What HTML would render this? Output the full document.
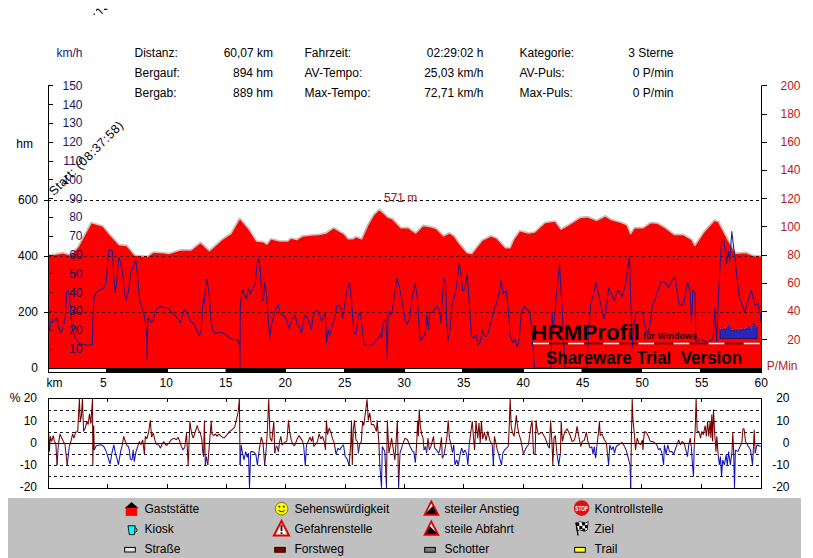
<!DOCTYPE html><html><head><meta charset="utf-8"><style>html,body{margin:0;padding:0;background:#fff;width:813px;height:558px;overflow:hidden}svg{display:block;font-family:"Liberation Sans",sans-serif}</style></head><body>
<svg width="813" height="558" viewBox="0 0 813 558">
<rect width="813" height="558" fill="#fff"/>
<rect x="93.7" y="13.6" width="1.3" height="1.3" fill="#111"/><path d="M96.6,11.2 L96.9,9.4 L98.6,9.4 L102.6,13.6 M104,9.4 L107.4,9.4" stroke="#111" stroke-width="1.1" fill="none"/>
<text x="56.5" y="57" font-size="12" fill="#1a1a6a" text-anchor="start" >km/h</text>
<text x="134.5" y="57" font-size="12" fill="#000" text-anchor="start" >Distanz:</text>
<text x="273" y="57" font-size="12" fill="#000" text-anchor="end" >60,07 km</text>
<text x="134.5" y="77" font-size="12" fill="#000" text-anchor="start" >Bergauf:</text>
<text x="273" y="77" font-size="12" fill="#000" text-anchor="end" >894 hm</text>
<text x="134.5" y="97" font-size="12" fill="#000" text-anchor="start" >Bergab:</text>
<text x="273" y="97" font-size="12" fill="#000" text-anchor="end" >889 hm</text>
<text x="304.5" y="57" font-size="12" fill="#000" text-anchor="start" >Fahrzeit:</text>
<text x="483.5" y="57" font-size="12" fill="#000" text-anchor="end" >02:29:02 h</text>
<text x="304.5" y="77" font-size="12" fill="#000" text-anchor="start" >AV-Tempo:</text>
<text x="483.5" y="77" font-size="12" fill="#000" text-anchor="end" >25,03 km/h</text>
<text x="304.5" y="97" font-size="12" fill="#000" text-anchor="start" >Max-Tempo:</text>
<text x="483.5" y="97" font-size="12" fill="#000" text-anchor="end" >72,71 km/h</text>
<text x="519.5" y="57" font-size="12" fill="#000" text-anchor="start" >Kategorie:</text>
<text x="673.5" y="57" font-size="12" fill="#000" text-anchor="end" >3 Sterne</text>
<text x="519.5" y="77" font-size="12" fill="#000" text-anchor="start" >AV-Puls:</text>
<text x="673.5" y="77" font-size="12" fill="#000" text-anchor="end" >0 P/min</text>
<text x="519.5" y="97" font-size="12" fill="#000" text-anchor="start" >Max-Puls:</text>
<text x="673.5" y="97" font-size="12" fill="#000" text-anchor="end" >0 P/min</text>
<polygon points="48.0,368.0 48.0,255.0 56.0,254.0 63.0,252.7 70.6,255.0 78.0,246.8 82.4,238.7 91.2,222.5 103.0,226.0 110.4,235.0 119.3,244.6 126.7,245.3 134.8,255.0 147.3,256.4 153.2,252.0 164.0,252.7 168.9,253.5 180.7,249.8 191.0,249.8 200.6,242.4 209.4,250.5 222.0,239.4 230.8,233.5 239.7,218.0 248.6,228.4 256.7,241.0 263.3,241.7 267.0,243.9 270.7,238.7 280.0,241.0 287.8,240.9 290.8,238.0 296.7,239.4 302.6,235.8 311.4,235.0 318.8,234.3 326.2,232.8 333.6,227.6 341.0,232.0 343.9,233.5 348.3,238.7 352.8,238.7 355.7,236.5 361.6,238.7 367.5,225.4 373.4,215.0 379.3,209.2 385.2,214.4 388.2,217.3 392.6,218.8 400.9,227.6 408.2,227.6 415.6,232.8 423.0,225.4 431.9,226.9 436.3,228.4 443.7,235.8 449.6,232.8 454.0,235.8 459.9,243.9 467.3,252.7 471.7,253.5 482.0,240.2 490.9,235.8 496.8,238.0 505.7,247.6 510.0,247.6 513.9,238.7 519.8,230.6 528.7,232.8 534.6,232.0 544.9,222.5 555.2,221.0 561.1,229.1 568.5,224.7 580.3,217.3 587.7,216.6 596.6,220.3 605.4,215.8 611.3,219.5 621.7,222.5 627.0,224.7 630.6,233.5 634.3,227.6 643.2,227.6 650.6,222.5 658.0,223.2 665.3,227.6 674.2,234.3 683.0,234.3 691.9,239.4 694.8,245.3 703.7,232.0 714.3,220.1 718.6,221.5 728.7,240.9 735.9,253.1 745.9,252.4 753.1,255.3 761.0,256.0 761.5,256.0 762.0,368.0" fill="#ff0000"/>
<polyline points="48.0,255.0 56.0,254.0 63.0,252.7 70.6,255.0 78.0,246.8 82.4,238.7 91.2,222.5 103.0,226.0 110.4,235.0 119.3,244.6 126.7,245.3 134.8,255.0 147.3,256.4 153.2,252.0 164.0,252.7 168.9,253.5 180.7,249.8 191.0,249.8 200.6,242.4 209.4,250.5 222.0,239.4 230.8,233.5 239.7,218.0 248.6,228.4 256.7,241.0 263.3,241.7 267.0,243.9 270.7,238.7 280.0,241.0 287.8,240.9 290.8,238.0 296.7,239.4 302.6,235.8 311.4,235.0 318.8,234.3 326.2,232.8 333.6,227.6 341.0,232.0 343.9,233.5 348.3,238.7 352.8,238.7 355.7,236.5 361.6,238.7 367.5,225.4 373.4,215.0 379.3,209.2 385.2,214.4 388.2,217.3 392.6,218.8 400.9,227.6 408.2,227.6 415.6,232.8 423.0,225.4 431.9,226.9 436.3,228.4 443.7,235.8 449.6,232.8 454.0,235.8 459.9,243.9 467.3,252.7 471.7,253.5 482.0,240.2 490.9,235.8 496.8,238.0 505.7,247.6 510.0,247.6 513.9,238.7 519.8,230.6 528.7,232.8 534.6,232.0 544.9,222.5 555.2,221.0 561.1,229.1 568.5,224.7 580.3,217.3 587.7,216.6 596.6,220.3 605.4,215.8 611.3,219.5 621.7,222.5 627.0,224.7 630.6,233.5 634.3,227.6 643.2,227.6 650.6,222.5 658.0,223.2 665.3,227.6 674.2,234.3 683.0,234.3 691.9,239.4 694.8,245.3 703.7,232.0 714.3,220.1 718.6,221.5 728.7,240.9 735.9,253.1 745.9,252.4 753.1,255.3 761.0,256.0" fill="none" stroke="#cdbfb8" stroke-width="1.7" stroke-linejoin="round"/>
<clipPath id="redclip"><polygon points="48.0,368.0 48.0,255.0 56.0,254.0 63.0,252.7 70.6,255.0 78.0,246.8 82.4,238.7 91.2,222.5 103.0,226.0 110.4,235.0 119.3,244.6 126.7,245.3 134.8,255.0 147.3,256.4 153.2,252.0 164.0,252.7 168.9,253.5 180.7,249.8 191.0,249.8 200.6,242.4 209.4,250.5 222.0,239.4 230.8,233.5 239.7,218.0 248.6,228.4 256.7,241.0 263.3,241.7 267.0,243.9 270.7,238.7 280.0,241.0 287.8,240.9 290.8,238.0 296.7,239.4 302.6,235.8 311.4,235.0 318.8,234.3 326.2,232.8 333.6,227.6 341.0,232.0 343.9,233.5 348.3,238.7 352.8,238.7 355.7,236.5 361.6,238.7 367.5,225.4 373.4,215.0 379.3,209.2 385.2,214.4 388.2,217.3 392.6,218.8 400.9,227.6 408.2,227.6 415.6,232.8 423.0,225.4 431.9,226.9 436.3,228.4 443.7,235.8 449.6,232.8 454.0,235.8 459.9,243.9 467.3,252.7 471.7,253.5 482.0,240.2 490.9,235.8 496.8,238.0 505.7,247.6 510.0,247.6 513.9,238.7 519.8,230.6 528.7,232.8 534.6,232.0 544.9,222.5 555.2,221.0 561.1,229.1 568.5,224.7 580.3,217.3 587.7,216.6 596.6,220.3 605.4,215.8 611.3,219.5 621.7,222.5 627.0,224.7 630.6,233.5 634.3,227.6 643.2,227.6 650.6,222.5 658.0,223.2 665.3,227.6 674.2,234.3 683.0,234.3 691.9,239.4 694.8,245.3 703.7,232.0 714.3,220.1 718.6,221.5 728.7,240.9 735.9,253.1 745.9,252.4 753.1,255.3 761.0,256.0 761.5,256.0 762.0,368.0"/></clipPath>
<line x1="48" y1="200.5" x2="762" y2="200.5" stroke="#111" stroke-width="1" stroke-dasharray="3,3"/>
<line x1="48" y1="200.5" x2="762" y2="200.5" stroke="#600000" stroke-width="1" stroke-dasharray="3,3" clip-path="url(#redclip)"/>
<line x1="48" y1="256.5" x2="762" y2="256.5" stroke="#111" stroke-width="1" stroke-dasharray="3,3"/>
<line x1="48" y1="256.5" x2="762" y2="256.5" stroke="#600000" stroke-width="1" stroke-dasharray="3,3" clip-path="url(#redclip)"/>
<line x1="48" y1="312.5" x2="762" y2="312.5" stroke="#111" stroke-width="1" stroke-dasharray="3,3"/>
<line x1="48" y1="312.5" x2="762" y2="312.5" stroke="#600000" stroke-width="1" stroke-dasharray="3,3" clip-path="url(#redclip)"/>
<g>
<text x="82.5" y="89.7" font-size="12" fill="#1a1a6a" text-anchor="end" >150</text>
<text x="82.5" y="108.5" font-size="12" fill="#1a1a6a" text-anchor="end" >140</text>
<text x="82.5" y="127.3" font-size="12" fill="#1a1a6a" text-anchor="end" >130</text>
<text x="82.5" y="146.10000000000002" font-size="12" fill="#1a1a6a" text-anchor="end" >120</text>
<text x="82.5" y="164.90000000000003" font-size="12" fill="#1a1a6a" text-anchor="end" >110</text>
<text x="82.5" y="183.70000000000002" font-size="12" fill="#1a1a6a" text-anchor="end" >100</text>
<text x="82.5" y="202.50000000000003" font-size="12" fill="#1a1a6a" text-anchor="end" >90</text>
<text x="82.5" y="221.3" font-size="12" fill="#1a1a6a" text-anchor="end" >80</text>
<text x="82.5" y="240.10000000000002" font-size="12" fill="#1a1a6a" text-anchor="end" >70</text>
<text x="82.5" y="258.90000000000003" font-size="12" fill="#1a1a6a" text-anchor="end" >60</text>
<text x="82.5" y="277.7" font-size="12" fill="#1a1a6a" text-anchor="end" >50</text>
<text x="82.5" y="296.50000000000006" font-size="12" fill="#1a1a6a" text-anchor="end" >40</text>
<text x="82.5" y="315.3" font-size="12" fill="#1a1a6a" text-anchor="end" >30</text>
<text x="82.5" y="334.1" font-size="12" fill="#1a1a6a" text-anchor="end" >20</text>
<text x="82.5" y="352.90000000000003" font-size="12" fill="#1a1a6a" text-anchor="end" >10</text>
</g><g clip-path="url(#redclip)">
<text x="82.5" y="89.7" font-size="12" fill="#48104a" text-anchor="end" >150</text>
<text x="82.5" y="108.5" font-size="12" fill="#48104a" text-anchor="end" >140</text>
<text x="82.5" y="127.3" font-size="12" fill="#48104a" text-anchor="end" >130</text>
<text x="82.5" y="146.10000000000002" font-size="12" fill="#48104a" text-anchor="end" >120</text>
<text x="82.5" y="164.90000000000003" font-size="12" fill="#48104a" text-anchor="end" >110</text>
<text x="82.5" y="183.70000000000002" font-size="12" fill="#48104a" text-anchor="end" >100</text>
<text x="82.5" y="202.50000000000003" font-size="12" fill="#48104a" text-anchor="end" >90</text>
<text x="82.5" y="221.3" font-size="12" fill="#48104a" text-anchor="end" >80</text>
<text x="82.5" y="240.10000000000002" font-size="12" fill="#48104a" text-anchor="end" >70</text>
<text x="82.5" y="258.90000000000003" font-size="12" fill="#48104a" text-anchor="end" >60</text>
<text x="82.5" y="277.7" font-size="12" fill="#48104a" text-anchor="end" >50</text>
<text x="82.5" y="296.50000000000006" font-size="12" fill="#48104a" text-anchor="end" >40</text>
<text x="82.5" y="315.3" font-size="12" fill="#48104a" text-anchor="end" >30</text>
<text x="82.5" y="334.1" font-size="12" fill="#48104a" text-anchor="end" >20</text>
<text x="82.5" y="352.90000000000003" font-size="12" fill="#48104a" text-anchor="end" >10</text>
</g>
<polyline points="49.1,330.2 50.4,325.2 51.6,318.9 52.9,322.7 54.8,320.2 56.7,317.6 57.9,323.9 59.2,328.9 61.1,332.7 62.9,327.7 64.8,320.2 65.8,310.1 66.7,292.5 68.0,289.4 69.2,293.8 70.1,302.6 71.1,317.6 72.3,327.7 74.2,335.2 76.1,339.0 78.6,342.7 81.8,344.0 87.4,345.2 92.4,344.6 93.0,315.1 94.3,296.3 96.2,292.5 100.0,290.0 102.5,288.8 103.8,288.3 106.3,281.4 107.5,263.8 108.8,250.0 110.7,250.6 112.5,251.3 113.8,276.4 115.1,292.7 116.9,280.1 118.8,257.5 120.7,262.6 122.6,272.6 124.5,292.7 126.1,300.2 128.2,292.7 130.7,273.9 133.2,266.3 135.8,260.1 137.6,276.4 139.5,299.0 142.3,308.8 144.2,315.1 145.4,322.6 146.7,335.2 147.0,359.0 147.9,317.6 149.8,320.1 151.7,322.6 153.6,318.9 154.8,312.6 157.3,308.2 160.5,306.3 163.0,307.6 166.1,307.6 168.6,308.8 171.8,312.6 174.9,315.1 178.0,318.9 180.5,323.2 182.4,315.1 184.3,310.1 186.2,311.3 188.1,315.1 190.6,321.4 193.7,323.9 196.9,330.2 199.4,335.9 201.3,330.2 202.5,307.6 203.6,298.9 204.4,302.6 205.7,285.1 206.9,279.4 208.2,287.6 209.4,295.1 210.7,317.7 212.6,330.2 215.1,333.4 218.9,332.7 222.6,332.7 226.4,334.6 228.9,337.8 232.7,339.6 237.7,339.6 239.6,345.0 240.0,367.0 240.3,307.6 241.4,295.1 242.7,290.1 244.6,295.1 246.5,298.9 248.3,288.8 250.0,291.3 250.1,294.3 252.7,289.2 255.2,284.1 256.9,265.3 258.6,258.5 260.3,268.7 262.0,301.1 263.4,299.4 264.6,282.4 265.8,289.2 267.1,301.1 268.5,321.6 269.7,338.6 271.4,325.0 274.0,314.7 275.7,309.6 278.2,304.5 279.9,313.0 282.5,314.7 285.9,318.1 289.3,328.4 291.8,319.8 295.0,314.7 297.3,324.3 299.5,327.6 301.6,333.0 303.8,319.0 305.5,314.7 307.7,319.0 309.8,323.3 311.5,329.7 313.0,316.8 314.8,311.4 317.3,310.4 319.5,314.7 321.6,321.1 323.8,316.8 325.3,312.5 326.6,342.6 328.1,329.7 329.6,336.2 332.4,325.4 335.2,316.8 336.7,306.1 338.8,305.0 341.0,308.2 342.5,317.9 344.2,308.2 346.8,291.0 349.6,282.4 351.7,301.8 353.9,334.0 356.0,334.0 358.2,316.8 360.3,311.4 362.5,329.7 364.0,344.8 368.3,345.8 372.6,344.8 375.8,340.5 378.0,338.3 380.1,334.0 381.6,338.3 383.4,321.1 385.5,319.0 386.6,334.0 387.2,359.8 388.1,316.8 389.8,311.4 391.5,314.7 393.0,306.1 395.2,291.0 396.9,278.1 399.5,287.8 402.3,301.8 404.9,319.0 407.0,324.3 409.6,319.0 412.4,295.3 415.2,283.5 417.3,297.5 418.8,321.1 420.3,340.5 423.1,337.2 425.3,334.0 426.8,314.7 428.5,329.7 429.6,312.5 432.4,312.5 434.5,309.3 437.1,306.1 439.3,310.4 441.0,323.3 441.8,306.1 444.0,278.1 445.7,284.6 446.6,319.0 447.9,340.5 450.0,329.7 452.2,303.9 454.3,297.5 456.5,286.7 459.1,263.1 461.2,276.0 462.9,291.0 465.1,287.8 467.2,273.8 469.4,303.9 471.5,336.2 473.7,338.3 475.8,334.0 478.0,344.8 480.1,342.6 482.3,329.7 484.4,336.2 487.0,336.2 489.6,327.6 492.4,316.8 494.5,308.2 496.7,302.8 498.8,294.2 501.0,280.3 503.1,293.2 506.4,291.0 508.5,312.5 510.2,336.2 512.8,342.6 515.0,339.4 517.1,346.9 519.3,338.3 521.4,312.5 524.0,306.1 527.2,309.3 530.0,312.5 532.2,334.0 534.5,368.0 540.0,368.0 548.0,368.0 551.0,368.0 552.0,312.5 553.5,330.0 556.0,300.0 559.5,264.0 562.7,319.0 565.0,368.0 568.0,368.0 580.0,368.0 587.0,368.0 588.5,330.0 590.7,304.0 593.5,295.0 596.0,282.4 599.3,297.5 604.0,319.0 606.0,310.0 608.7,287.8 614.3,300.7 618.0,290.0 622.3,296.4 625.5,284.6 629.4,256.6 630.9,303.9 632.4,346.9 634.1,323.3 636.3,311.4 639.5,311.4 642.7,312.5 645.9,329.7 648.1,333.0 650.2,323.3 652.4,306.1 655.6,297.5 661.0,281.3 665.3,282.4 668.5,287.8 672.8,279.2 675.0,277.0 677.1,291.0 679.3,305.0 682.5,305.0 684.0,301.8 687.6,282.0 690.2,292.5 691.5,323.7 692.8,290.0 694.9,292.5 695.9,341.9 699.3,339.3 703.2,340.6 708.4,341.9 713.0,339.3 714.9,308.1 716.7,341.9 718.8,290.0 721.4,242.0 724.0,240.6 726.6,264.0 728.4,251.0 729.7,261.4 731.8,231.5 734.4,253.6 737.0,277.0 739.5,297.7 744.7,312.0 751.2,290.0 755.1,305.5 757.7,303.0 760.3,313.3 761.0,322.0" fill="none" stroke="#241a8a" stroke-width="1.05" stroke-linejoin="round"/>
<text x="531" y="339.5" font-size="22.5" font-weight="bold" fill="#080000">HRMProfil</text>
<text x="643" y="339" font-size="9" font-weight="bold" fill="#1a0000">für Windows</text>
<line x1="531" y1="343.5" x2="759" y2="343.5" stroke="#100000" stroke-width="1.6"/>
<line x1="533.0" y1="343.5" x2="549.0" y2="343.5" stroke="#fff" stroke-width="1.6"/>
<line x1="568.1" y1="343.5" x2="584.1" y2="343.5" stroke="#fff" stroke-width="1.6"/>
<line x1="603.2" y1="343.5" x2="619.2" y2="343.5" stroke="#fff" stroke-width="1.6"/>
<line x1="638.3" y1="343.5" x2="654.3" y2="343.5" stroke="#fff" stroke-width="1.6"/>
<line x1="673.4" y1="343.5" x2="689.4" y2="343.5" stroke="#fff" stroke-width="1.6"/>
<line x1="708.5" y1="343.5" x2="724.5" y2="343.5" stroke="#fff" stroke-width="1.6"/>
<line x1="743.6" y1="343.5" x2="759.6" y2="343.5" stroke="#fff" stroke-width="1.6"/>
<text x="546" y="363.6" font-size="19" font-weight="bold" fill="#080000" xml:space="preserve" textLength="196" lengthAdjust="spacingAndGlyphs">Shareware Trial  Version</text>
<polygon points="720,338.5 720,329 722,329.5 724,328.5 726,330 727.5,326.5 728.5,324.5 730,327 731.5,330 733,331 735,329 737,330.5 739,329.5 741,330 743,328.5 745,330 747,328 748.5,325 750,328.5 751.5,329.5 753,325 754,322.5 755.5,325.5 757,327.5 757,338.5" fill="#2828b8" stroke="#000060" stroke-width="0.6"/><polyline points="720,329 724,328.5 727.5,326.5 728.5,324.5 731.5,330 735,329 739,329.5 743,328.5 747,328 748.5,325 751.5,329.5 754,322.5 757,327.5" fill="none" stroke="#b0b0ff" stroke-width="0.6" stroke-dasharray="1,1.5"/>
<line x1="48.5" y1="85.4" x2="48.5" y2="368" stroke="#000" stroke-width="1"/>
<line x1="761.5" y1="85.4" x2="761.5" y2="368" stroke="#000" stroke-width="1"/>
<line x1="48" y1="85.5" x2="53" y2="85.5" stroke="#000"/>
<line x1="48" y1="85.5" x2="53" y2="85.5" stroke="#700000" clip-path="url(#redclip)"/>
<line x1="48" y1="104.5" x2="53" y2="104.5" stroke="#000"/>
<line x1="48" y1="104.5" x2="53" y2="104.5" stroke="#700000" clip-path="url(#redclip)"/>
<line x1="48" y1="123.5" x2="53" y2="123.5" stroke="#000"/>
<line x1="48" y1="123.5" x2="53" y2="123.5" stroke="#700000" clip-path="url(#redclip)"/>
<line x1="48" y1="142.5" x2="53" y2="142.5" stroke="#000"/>
<line x1="48" y1="142.5" x2="53" y2="142.5" stroke="#700000" clip-path="url(#redclip)"/>
<line x1="48" y1="161.5" x2="53" y2="161.5" stroke="#000"/>
<line x1="48" y1="161.5" x2="53" y2="161.5" stroke="#700000" clip-path="url(#redclip)"/>
<line x1="48" y1="179.5" x2="53" y2="179.5" stroke="#000"/>
<line x1="48" y1="179.5" x2="53" y2="179.5" stroke="#700000" clip-path="url(#redclip)"/>
<line x1="48" y1="198.5" x2="53" y2="198.5" stroke="#000"/>
<line x1="48" y1="198.5" x2="53" y2="198.5" stroke="#700000" clip-path="url(#redclip)"/>
<line x1="48" y1="217.5" x2="53" y2="217.5" stroke="#000"/>
<line x1="48" y1="217.5" x2="53" y2="217.5" stroke="#700000" clip-path="url(#redclip)"/>
<line x1="48" y1="236.5" x2="53" y2="236.5" stroke="#000"/>
<line x1="48" y1="236.5" x2="53" y2="236.5" stroke="#700000" clip-path="url(#redclip)"/>
<line x1="48" y1="255.5" x2="53" y2="255.5" stroke="#000"/>
<line x1="48" y1="255.5" x2="53" y2="255.5" stroke="#700000" clip-path="url(#redclip)"/>
<line x1="48" y1="273.5" x2="53" y2="273.5" stroke="#000"/>
<line x1="48" y1="273.5" x2="53" y2="273.5" stroke="#700000" clip-path="url(#redclip)"/>
<line x1="48" y1="292.5" x2="53" y2="292.5" stroke="#000"/>
<line x1="48" y1="292.5" x2="53" y2="292.5" stroke="#700000" clip-path="url(#redclip)"/>
<line x1="48" y1="311.5" x2="53" y2="311.5" stroke="#000"/>
<line x1="48" y1="311.5" x2="53" y2="311.5" stroke="#700000" clip-path="url(#redclip)"/>
<line x1="48" y1="330.5" x2="53" y2="330.5" stroke="#000"/>
<line x1="48" y1="330.5" x2="53" y2="330.5" stroke="#700000" clip-path="url(#redclip)"/>
<line x1="48" y1="349.5" x2="53" y2="349.5" stroke="#000"/>
<line x1="48" y1="349.5" x2="53" y2="349.5" stroke="#700000" clip-path="url(#redclip)"/>
<line x1="44" y1="200.5" x2="48" y2="200.5" stroke="#000"/>
<line x1="44" y1="256.5" x2="48" y2="256.5" stroke="#000"/>
<line x1="44" y1="312.5" x2="48" y2="312.5" stroke="#000"/>
<line x1="762" y1="85.5" x2="767" y2="85.5" stroke="#000"/>
<line x1="762" y1="114.5" x2="767" y2="114.5" stroke="#000"/>
<line x1="762" y1="142.5" x2="767" y2="142.5" stroke="#000"/>
<line x1="762" y1="170.5" x2="767" y2="170.5" stroke="#000"/>
<line x1="762" y1="198.5" x2="767" y2="198.5" stroke="#000"/>
<line x1="762" y1="226.5" x2="767" y2="226.5" stroke="#000"/>
<line x1="762" y1="255.5" x2="767" y2="255.5" stroke="#000"/>
<line x1="762" y1="283.5" x2="767" y2="283.5" stroke="#000"/>
<line x1="762" y1="311.5" x2="767" y2="311.5" stroke="#000"/>
<line x1="762" y1="339.5" x2="767" y2="339.5" stroke="#000"/>
<text x="33" y="148" font-size="12" fill="#000" text-anchor="end" >hm</text>
<text x="38" y="204.3" font-size="12" fill="#000" text-anchor="end" >600</text>
<text x="38" y="260.3" font-size="12" fill="#000" text-anchor="end" >400</text>
<text x="38" y="316.3" font-size="12" fill="#000" text-anchor="end" >200</text>
<text x="38" y="372.3" font-size="12" fill="#000" text-anchor="end" >0</text>
<text x="800.5" y="89.7" font-size="12" fill="#b81818" text-anchor="end" >200</text>
<text x="800.5" y="117.9" font-size="12" fill="#b81818" text-anchor="end" >180</text>
<text x="800.5" y="146.10000000000002" font-size="12" fill="#b81818" text-anchor="end" >160</text>
<text x="800.5" y="174.3" font-size="12" fill="#b81818" text-anchor="end" >140</text>
<text x="800.5" y="202.5" font-size="12" fill="#b81818" text-anchor="end" >120</text>
<text x="800.5" y="230.70000000000002" font-size="12" fill="#b81818" text-anchor="end" >100</text>
<text x="800.5" y="258.9" font-size="12" fill="#b81818" text-anchor="end" >80</text>
<text x="800.5" y="287.1" font-size="12" fill="#b81818" text-anchor="end" >60</text>
<text x="800.5" y="315.3" font-size="12" fill="#b81818" text-anchor="end" >40</text>
<text x="800.5" y="343.5" font-size="12" fill="#b81818" text-anchor="end" >20</text>
<text x="797.5" y="370" font-size="12" fill="#b81818" text-anchor="end" >P/Min</text>
<text x="384" y="201.5" font-size="12" fill="#b01020" text-anchor="start" >571 m</text>
<text x="0" y="0" font-size="12.5" fill="#000" transform="translate(54,196.3) rotate(-45)" textLength="99" lengthAdjust="spacing">Start: (08:37:58)</text>
<rect x="48" y="368" width="714" height="5" fill="#000"/>
<rect x="49" y="369" width="712" height="3" fill="#fff"/>
<rect x="106" y="369" width="62" height="3" fill="#000"/>
<rect x="225.5" y="369" width="60.5" height="3" fill="#000"/>
<rect x="344" y="369" width="61" height="3" fill="#000"/>
<rect x="462" y="369" width="62" height="3" fill="#000"/>
<rect x="581.5" y="369" width="60.5" height="3" fill="#000"/>
<rect x="700" y="369" width="62" height="3" fill="#000"/>
<text x="46.5" y="387" font-size="12" fill="#000" text-anchor="start" >km</text>
<text x="100.0" y="387" font-size="12" fill="#000" text-anchor="start" >5</text>
<text x="159.5" y="387" font-size="12" fill="#000" text-anchor="start" >10</text>
<text x="219.0" y="387" font-size="12" fill="#000" text-anchor="start" >15</text>
<text x="278.5" y="387" font-size="12" fill="#000" text-anchor="start" >20</text>
<text x="338.0" y="387" font-size="12" fill="#000" text-anchor="start" >25</text>
<text x="397.5" y="387" font-size="12" fill="#000" text-anchor="start" >30</text>
<text x="457.0" y="387" font-size="12" fill="#000" text-anchor="start" >35</text>
<text x="516.5" y="387" font-size="12" fill="#000" text-anchor="start" >40</text>
<text x="576.0" y="387" font-size="12" fill="#000" text-anchor="start" >45</text>
<text x="635.5" y="387" font-size="12" fill="#000" text-anchor="start" >50</text>
<text x="695.0" y="387" font-size="12" fill="#000" text-anchor="start" >55</text>
<text x="754.5" y="387" font-size="12" fill="#000" text-anchor="start" >60</text>
<line x1="48" y1="410.5" x2="762" y2="410.5" stroke="#000" stroke-width="1" stroke-dasharray="3,3" opacity="0.9"/>
<line x1="48" y1="421.5" x2="762" y2="421.5" stroke="#000" stroke-width="1" stroke-dasharray="3,3" opacity="0.9"/>
<line x1="48" y1="432.5" x2="762" y2="432.5" stroke="#000" stroke-width="1" stroke-dasharray="3,3" opacity="0.9"/>
<line x1="48" y1="443.5" x2="762" y2="443.5" stroke="#000" stroke-width="1"/>
<line x1="48" y1="454.5" x2="762" y2="454.5" stroke="#000" stroke-width="1" stroke-dasharray="3,3" opacity="0.9"/>
<line x1="48" y1="465.5" x2="762" y2="465.5" stroke="#000" stroke-width="1" stroke-dasharray="3,3" opacity="0.9"/>
<line x1="48" y1="476.5" x2="762" y2="476.5" stroke="#000" stroke-width="1" stroke-dasharray="3,3" opacity="0.9"/>
<path d="M48.7,432.2L49.4,451.6M49.4,451.6L50.4,436.4M50.4,436.4L51.6,441.5M51.6,441.5L53.3,435.6M53.3,435.6L54.4,441.5M54.4,441.5L55.8,443.1M55.8,443.1L57.1,465.0M58.3,444.8L60.0,433.9M60.0,433.9L61.7,438.1M61.7,438.1L63.4,441.5M63.4,441.5L65.0,444.5M65.0,444.5L67.2,465.0M69.3,446.5L70.9,441.5M70.9,441.5L72.6,433.9M72.6,433.9L74.0,438.1M74.0,438.1L75.6,432.2M75.6,432.2L77.7,431.4M77.7,431.4L79.4,399.0M79.4,399.0L80.2,421.3M80.2,421.3L81.4,416.2M81.4,416.2L82.4,399.0M82.4,399.0L83.6,431.4M83.6,431.4L85.2,428.0M85.2,428.0L86.9,421.3M86.9,421.3L88.1,424.6M88.1,424.6L89.5,413.7M89.5,413.7L90.8,423.8M90.8,423.8L92.5,399.0M92.5,399.0L92.8,465.9M92.8,465.9L93.7,425.5M93.7,425.5L94.2,449.9M122.3,444.8L123.7,436.4M123.7,436.4L125.4,441.5M125.4,441.5L127.1,445.7M137.7,446.5L139.4,441.5M139.4,441.5L141.0,444.8M141.0,444.8L142.7,439.8M142.7,439.8L144.4,454.1M144.4,454.1L145.3,436.4M145.3,436.4L146.9,438.9M146.9,438.9L148.6,432.2M148.6,432.2L150.3,420.4M150.3,420.4L151.6,437.2M151.6,437.2L153.3,433.0M153.3,433.0L155.0,440.6M155.0,440.6L156.7,444.8M160.4,448.2L162.1,444.0M162.1,444.0L163.8,441.5M163.8,441.5L166.3,445.7M166.3,445.7L168.8,443.1M168.8,443.1L171.3,439.8M171.3,439.8L173.9,438.1M173.9,438.1L176.4,439.8M176.4,439.8L178.1,437.2M178.1,437.2L179.8,441.5M179.8,441.5L181.4,446.5M184.8,447.3L186.5,433.0M186.5,433.0L188.2,465.0M188.2,465.0L189.9,421.3M189.9,421.3L191.5,433.0M191.5,433.0L193.2,438.1M193.2,438.1L197.3,425.5M197.3,425.5L198.5,430.5M198.5,430.5L200.2,432.2M200.2,432.2L201.9,439.8M201.9,439.8L202.7,451.6M203.6,456.6L204.4,420.4M204.4,420.4L205.3,465.0M207.8,465.0L209.5,443.1M209.5,443.1L211.2,421.3M211.2,421.3L212.0,433.9M212.0,433.9L213.7,435.6M213.7,435.6L215.4,433.9M215.4,433.9L217.0,436.4M217.0,436.4L218.7,433.9M218.7,433.9L221.3,436.4M221.3,436.4L223.8,438.1M223.8,438.1L226.3,435.6M226.3,435.6L229.7,431.4M229.7,431.4L232.2,429.7M232.2,429.7L234.7,427.1M234.7,427.1L236.4,419.6M236.4,419.6L238.1,412.8M238.1,412.8L239.4,399.0M239.4,399.0L240.1,465.0M259.1,450.7L261.3,437.2M261.3,437.2L263.0,443.1M263.0,443.1L264.7,465.0M266.4,446.5L267.5,428.0M267.5,428.0L268.7,399.0M268.7,399.0L270.1,438.1M270.1,438.1L271.8,441.5M271.8,441.5L273.8,421.3M273.8,421.3L274.8,453.2M278.4,451.6L279.6,441.5M279.6,441.5L280.8,436.4M280.8,436.4L282.1,444.8M282.1,444.8L284.6,442.3M284.6,442.3L286.8,441.5M286.8,441.5L288.5,420.4M288.5,420.4L289.7,432.2M289.7,432.2L291.4,440.6M291.4,440.6L293.0,444.8M294.7,445.7L296.9,439.8M296.9,439.8L298.9,435.6M298.9,435.6L300.6,438.1M300.6,438.1L302.3,440.6M302.3,440.6L303.6,444.8M306.5,444.8L308.2,441.5M308.2,441.5L309.9,437.2M309.9,437.2L311.6,441.5M311.6,441.5L312.7,436.4M312.7,436.4L313.8,446.5M313.8,446.5L315.8,444.0M315.8,444.0L317.5,441.5M317.5,441.5L319.1,433.9M319.1,433.9L320.8,438.9M320.8,438.9L322.5,436.4M322.5,436.4L324.2,441.5M324.2,441.5L325.5,449.9M325.5,449.9L326.4,420.4M326.4,420.4L327.6,434.7M327.6,434.7L329.2,428.0M329.2,428.0L330.9,432.2M330.9,432.2L332.6,438.9M332.6,438.9L334.3,443.1M334.3,443.1L336.0,454.1M349.1,465.0L350.8,443.1M350.8,443.1L351.5,420.4M351.5,420.4L352.3,465.0M352.3,465.0L353.3,429.7M353.3,429.7L354.5,420.4M354.5,420.4L355.9,439.8M355.9,439.8L357.4,441.5M357.4,441.5L358.4,453.2M359.6,444.8L361.3,441.5M361.3,441.5L362.6,421.3M362.6,421.3L363.8,425.5M363.8,425.5L367.1,399.4M367.1,399.4L368.3,420.4M368.3,420.4L369.7,412.8M369.7,412.8L371.4,424.6M371.4,424.6L373.9,424.6M373.9,424.6L376.4,431.4M376.4,431.4L377.2,420.4M377.2,420.4L378.9,443.1M378.9,443.1L379.8,465.0M386.5,487.8L387.3,420.4M387.3,420.4L389.0,453.2M389.0,453.2L391.6,438.1M391.6,438.1L394.9,460.0M394.9,460.0L397.4,420.4M397.4,420.4L398.6,487.8M402.5,444.8L405.0,438.1M405.0,438.1L407.5,439.8M407.5,439.8L410.1,446.5M415.4,462.5L416.7,443.1M416.7,443.1L417.6,420.4M417.6,420.4L418.4,436.4M418.4,436.4L419.2,409.5M419.2,409.5L420.4,426.3M420.4,426.3L421.8,434.7M421.8,434.7L422.9,437.2M422.9,437.2L424.1,449.9M426.6,453.2L428.0,438.1M428.0,438.1L429.3,449.9M430.9,446.5L432.2,441.5M432.2,441.5L433.5,436.4M433.5,436.4L434.7,448.2M439.8,449.9L441.5,437.2M441.5,437.2L442.3,458.3M445.7,444.8L447.0,436.4M447.0,436.4L448.2,420.4M448.2,420.4L449.4,438.1M449.4,438.1L450.7,443.1M450.7,443.1L452.4,452.4M469.2,444.8L470.9,431.4M470.9,431.4L472.3,421.3M472.3,421.3L473.4,436.4M473.4,436.4L474.6,449.9M474.6,449.9L476.0,421.3M476.0,421.3L477.7,438.1M477.7,438.1L479.0,422.9M479.0,422.9L480.2,443.1M480.2,443.1L481.4,421.3M481.4,421.3L482.7,438.9M482.7,438.9L484.4,432.2M484.4,432.2L486.1,440.6M486.1,440.6L487.8,431.4M487.8,431.4L489.8,440.6M489.8,440.6L492.2,444.8M493.4,465.0L494.4,436.4M494.4,436.4L495.6,441.5M495.6,441.5L497.3,449.9M508.2,446.5L509.0,432.2M509.0,432.2L510.2,399.0M510.2,399.0L511.2,426.3M511.2,426.3L512.4,432.2M512.4,432.2L514.1,436.4M514.1,436.4L516.3,415.4M516.3,415.4L517.5,426.3M517.5,426.3L519.1,434.7M519.1,434.7L520.8,439.8M520.8,439.8L523.4,454.1M528.4,444.8L530.9,426.3M530.9,426.3L532.1,420.4M532.1,420.4L533.5,454.1M535.1,454.1L536.0,420.4M536.0,420.4L537.2,429.7M537.2,429.7L538.5,434.7M538.5,434.7L541.9,432.2M541.9,432.2L545.2,438.1M545.2,438.1L548.3,446.5M549.4,448.2L550.6,420.4M550.6,420.4L552.0,443.1M552.0,443.1L552.8,465.0M552.8,465.0L554.0,438.1M554.0,438.1L555.3,435.6M555.3,435.6L557.0,454.1M560.4,453.2L561.2,421.3M561.2,421.3L562.4,441.5M562.4,441.5L564.6,432.2M564.6,432.2L567.1,428.8M567.1,428.8L569.9,434.7M569.9,434.7L572.1,441.5M572.1,441.5L574.1,440.6M574.1,440.6L575.4,436.4M575.4,436.4L577.1,426.3M577.1,426.3L578.8,436.4M578.8,436.4L580.8,446.5M580.8,446.5L582.2,441.5M582.2,441.5L584.2,440.6M584.2,440.6L586.4,432.2M586.4,432.2L587.9,441.5M587.9,441.5L590.1,448.2M596.8,446.5L598.5,432.2M598.5,432.2L599.4,421.3M599.4,421.3L600.2,435.6M600.2,435.6L601.9,433.9M601.9,433.9L604.4,439.8M604.4,439.8L606.4,443.1M606.4,443.1L607.4,453.2M618.7,444.8L622.1,442.3M622.1,442.3L624.6,446.5M630.7,488.0L631.3,443.1M631.3,443.1L632.2,399.0M632.2,399.0L633.0,420.4M633.0,420.4L634.4,434.7M634.4,434.7L635.5,449.9M635.5,449.9L637.2,438.1M637.2,438.1L638.9,443.1M638.9,443.1L640.6,444.8M640.6,444.8L642.3,439.8M642.3,439.8L643.0,449.9M643.0,449.9L643.7,438.1M643.7,438.1L644.7,431.4M644.7,431.4L646.7,433.0M646.7,433.0L648.4,436.4M648.4,436.4L650.4,441.5M650.4,441.5L652.6,441.5M652.6,441.5L655.2,443.1M655.2,443.1L656.8,444.8M677.0,444.8L678.7,439.8M678.7,439.8L680.4,444.8M680.4,444.8L682.1,441.5M682.1,441.5L684.1,443.1M684.1,443.1L686.3,451.6M688.8,444.8L690.2,438.1M690.2,438.1L691.3,446.5M694.2,446.5L695.2,429.7M695.2,429.7L696.1,399.0M696.1,399.0L697.2,431.4M697.2,431.4L698.9,431.4M698.9,431.4L700.6,438.1M700.6,438.1L701.7,431.4M701.7,431.4L703.4,434.7M703.4,434.7L705.1,425.5M705.1,425.5L706.4,436.4M706.4,436.4L707.6,421.3M707.6,421.3L708.8,436.4M708.8,436.4L710.1,421.3M710.1,421.3L710.9,438.1M710.9,438.1L711.8,414.5M711.8,414.5L712.6,441.5M712.6,441.5L713.5,409.5M713.5,409.5L714.8,434.7M714.8,434.7L716.0,451.6M716.0,451.6L716.8,436.4M716.8,436.4L718.2,454.9M732.0,451.6L732.8,432.2M732.8,432.2L733.7,454.1M740.1,446.5L741.8,443.1M741.8,443.1L742.9,428.8M742.9,428.8L744.1,428.8M744.1,428.8L745.5,441.5M745.5,441.5L748.0,445.7M753.5,446.5L754.2,429.7M754.2,429.7L755.2,453.2" stroke="#780000" stroke-width="1.05" fill="none"/>
<path d="M57.1,465.0L58.3,444.8M67.2,465.0L69.3,446.5M94.2,449.9L96.2,445.7M96.2,445.7L101.2,444.8M101.2,444.8L103.8,446.5M103.8,446.5L106.3,451.6M106.3,451.6L108.8,460.0M108.8,460.0L110.0,464.2M110.0,464.2L112.2,451.6M112.2,451.6L113.9,444.8M113.9,444.8L115.5,454.1M115.5,454.1L117.2,459.1M117.2,459.1L118.4,465.0M118.4,465.0L120.6,451.6M120.6,451.6L122.3,444.8M127.1,445.7L128.4,446.5M128.4,446.5L129.3,449.9M129.3,449.9L130.4,459.1M130.4,459.1L132.1,460.0M132.1,460.0L133.1,449.9M133.1,449.9L134.3,461.7M134.3,461.7L136.0,451.6M136.0,451.6L137.7,446.5M156.7,444.8L158.7,444.8M158.7,444.8L160.4,448.2M181.4,446.5L183.1,449.9M183.1,449.9L184.8,447.3M202.7,451.6L203.6,456.6M205.3,465.0L206.4,456.6M206.4,456.6L207.8,465.0M240.1,465.0L241.1,444.8M241.1,444.8L242.3,451.6M242.3,451.6L244.0,460.0M244.0,460.0L245.7,451.6M245.7,451.6L247.3,457.4M247.3,457.4L248.5,453.2M248.5,453.2L249.5,488.0M249.5,488.0L250.7,451.6M250.7,451.6L253.2,451.6M253.2,451.6L255.8,454.1M255.8,454.1L257.4,465.0M257.4,465.0L259.1,450.7M264.7,465.0L266.4,446.5M274.8,453.2L276.0,446.5M276.0,446.5L277.0,446.5M277.0,446.5L278.4,451.6M293.0,444.8L294.7,445.7M303.6,444.8L305.3,465.9M305.3,465.9L306.5,444.8M336.0,454.1L338.0,448.2M338.0,448.2L339.7,449.9M339.7,449.9L341.9,446.5M341.9,446.5L343.5,444.8M343.5,444.8L345.2,456.6M345.2,456.6L346.9,458.3M346.9,458.3L349.1,465.0M358.4,453.2L359.6,444.8M379.8,465.0L381.5,487.8M381.5,487.8L382.3,446.5M382.3,446.5L384.8,451.6M384.8,451.6L386.5,487.8M398.6,487.8L400.0,453.2M400.0,453.2L402.5,444.8M410.1,446.5L412.6,451.6M412.6,451.6L413.7,451.6M413.7,451.6L415.4,462.5M424.1,449.9L425.5,446.5M425.5,446.5L426.6,453.2M429.3,449.9L430.9,446.5M434.7,448.2L436.4,449.9M436.4,449.9L438.6,453.2M438.6,453.2L439.8,449.9M442.3,458.3L444.0,454.9M444.0,454.9L445.7,444.8M452.4,452.4L453.8,444.8M453.8,444.8L454.9,465.0M454.9,465.0L456.6,460.0M456.6,460.0L458.3,465.0M458.3,465.0L460.0,454.9M460.0,454.9L461.7,448.2M461.7,448.2L463.3,453.2M463.3,453.2L465.0,449.9M465.0,449.9L466.7,454.1M466.7,454.1L467.9,465.0M467.9,465.0L469.2,444.8M492.2,444.8L493.4,465.0M497.3,449.9L498.9,454.9M498.9,454.9L500.1,460.0M500.1,460.0L501.5,465.0M501.5,465.0L502.8,453.2M502.8,453.2L504.5,449.9M504.5,449.9L506.5,448.2M506.5,448.2L508.2,446.5M523.4,454.1L525.9,448.2M525.9,448.2L528.4,444.8M533.5,454.1L535.1,454.1M548.3,446.5L549.4,448.2M557.0,454.1L558.7,465.0M558.7,465.0L560.4,453.2M590.1,448.2L591.8,446.5M591.8,446.5L593.0,454.1M593.0,454.1L594.3,446.5M594.3,446.5L595.6,458.3M595.6,458.3L596.8,446.5M607.4,453.2L608.6,465.0M608.6,465.0L609.8,444.8M609.8,444.8L611.5,449.9M611.5,449.9L613.2,446.5M613.2,446.5L614.5,453.2M614.5,453.2L616.2,446.5M616.2,446.5L618.7,444.8M624.6,446.5L626.6,451.6M626.6,451.6L628.8,460.0M628.8,460.0L630.0,465.0M630.0,465.0L630.7,488.0M656.8,444.8L658.5,449.9M658.5,449.9L660.2,448.2M660.2,448.2L661.9,453.2M661.9,453.2L663.6,465.0M663.6,465.0L664.4,444.8M664.4,444.8L666.1,454.1M666.1,454.1L667.8,444.8M667.8,444.8L669.5,451.6M669.5,451.6L672.0,451.6M672.0,451.6L673.7,454.1M673.7,454.1L675.4,449.0M675.4,449.0L677.0,444.8M686.3,451.6L687.5,456.6M687.5,456.6L688.8,444.8M691.3,446.5L692.5,465.0M692.5,465.0L693.5,476.8M693.5,476.8L694.2,446.5M718.2,454.9L719.4,465.0M719.4,465.0L720.5,456.6M720.5,456.6L721.5,476.8M721.5,476.8L722.7,460.0M722.7,460.0L724.4,465.0M724.4,465.0L726.1,454.9M726.1,454.9L727.3,465.0M727.3,465.0L728.6,451.6M728.6,451.6L730.3,465.0M730.3,465.0L732.0,451.6M733.7,454.1L734.5,488.0M734.5,488.0L735.4,449.9M735.4,449.9L737.9,451.6M737.9,451.6L740.1,446.5M748.0,445.7L750.5,449.9M750.5,449.9L752.5,465.0M752.5,465.0L753.5,446.5M755.2,453.2L756.9,444.8M756.9,444.8L758.9,445.7M758.9,445.7L760.6,446.5" stroke="#1414b8" stroke-width="1.05" fill="none"/>
<rect x="48.5" y="398.5" width="713" height="90" fill="none" stroke="#000" stroke-width="1"/>
<line x1="107.5" y1="398" x2="107.5" y2="402" stroke="#000"/>
<line x1="107.5" y1="484" x2="107.5" y2="488" stroke="#000"/>
<line x1="167.5" y1="398" x2="167.5" y2="402" stroke="#000"/>
<line x1="167.5" y1="484" x2="167.5" y2="488" stroke="#000"/>
<line x1="226.5" y1="398" x2="226.5" y2="402" stroke="#000"/>
<line x1="226.5" y1="484" x2="226.5" y2="488" stroke="#000"/>
<line x1="285.5" y1="398" x2="285.5" y2="402" stroke="#000"/>
<line x1="285.5" y1="484" x2="285.5" y2="488" stroke="#000"/>
<line x1="345.5" y1="398" x2="345.5" y2="402" stroke="#000"/>
<line x1="345.5" y1="484" x2="345.5" y2="488" stroke="#000"/>
<line x1="404.5" y1="398" x2="404.5" y2="402" stroke="#000"/>
<line x1="404.5" y1="484" x2="404.5" y2="488" stroke="#000"/>
<line x1="463.5" y1="398" x2="463.5" y2="402" stroke="#000"/>
<line x1="463.5" y1="484" x2="463.5" y2="488" stroke="#000"/>
<line x1="523.5" y1="398" x2="523.5" y2="402" stroke="#000"/>
<line x1="523.5" y1="484" x2="523.5" y2="488" stroke="#000"/>
<line x1="582.5" y1="398" x2="582.5" y2="402" stroke="#000"/>
<line x1="582.5" y1="484" x2="582.5" y2="488" stroke="#000"/>
<line x1="641.5" y1="398" x2="641.5" y2="402" stroke="#000"/>
<line x1="641.5" y1="484" x2="641.5" y2="488" stroke="#000"/>
<line x1="701.5" y1="398" x2="701.5" y2="402" stroke="#000"/>
<line x1="701.5" y1="484" x2="701.5" y2="488" stroke="#000"/>
<text x="37" y="401.90000000000003" font-size="12" fill="#000" text-anchor="end" >% 20</text>
<text x="37" y="424.7" font-size="12" fill="#000" text-anchor="end" >10</text>
<text x="37" y="447.3" font-size="12" fill="#000" text-anchor="end" >0</text>
<text x="37" y="469.1" font-size="12" fill="#000" text-anchor="end" >-10</text>
<text x="37" y="491.1" font-size="12" fill="#000" text-anchor="end" >-20</text>
<text x="789.5" y="401.90000000000003" font-size="12" fill="#000" text-anchor="end" >20</text>
<text x="789.5" y="424.7" font-size="12" fill="#000" text-anchor="end" >10</text>
<text x="789.5" y="447.3" font-size="12" fill="#000" text-anchor="end" >0</text>
<text x="789.5" y="469.1" font-size="12" fill="#000" text-anchor="end" >-10</text>
<text x="789.5" y="491.1" font-size="12" fill="#000" text-anchor="end" >-20</text>
<rect x="8" y="498" width="793" height="60" fill="#c0c0c0"/>
<text x="144.5" y="513.3" font-size="12" fill="#000" text-anchor="start" >Gaststätte</text>
<text x="294.5" y="513.3" font-size="12" fill="#000" text-anchor="start" >Sehenswürdigkeit</text>
<text x="444.5" y="513.3" font-size="12" fill="#000" text-anchor="start" >steiler Anstieg</text>
<text x="594.5" y="513.3" font-size="12" fill="#000" text-anchor="start" >Kontrollstelle</text>
<text x="144.5" y="532.7" font-size="12" fill="#000" text-anchor="start" >Kiosk</text>
<text x="294.5" y="532.7" font-size="12" fill="#000" text-anchor="start" >Gefahrenstelle</text>
<text x="444.5" y="532.7" font-size="12" fill="#000" text-anchor="start" >steile Abfahrt</text>
<text x="594.5" y="532.7" font-size="12" fill="#000" text-anchor="start" >Ziel</text>
<text x="144.5" y="552.8" font-size="12" fill="#000" text-anchor="start" >Straße</text>
<text x="294.5" y="552.8" font-size="12" fill="#000" text-anchor="start" >Forstweg</text>
<text x="444.5" y="552.8" font-size="12" fill="#000" text-anchor="start" >Schotter</text>
<text x="594.5" y="552.8" font-size="12" fill="#000" text-anchor="start" >Trail</text>
<polygon points="124.6,508.3 131.6,502 138.6,508.3" fill="#000"/><rect x="125.7" y="508.1" width="11.4" height="7.8" fill="#f00"/>
<path d="M128,525.8 L135.2,525.8 L134.3,534.6 L129.4,534.6 Z" fill="#00ffff" stroke="#000" stroke-width="0.9"/><path d="M134.9,527.6 Q137.6,528.4 137,531 Q136.4,532.6 134.5,532.4" fill="none" stroke="#000" stroke-width="0.9"/>
<rect x="124.7" y="547.4" width="10.6" height="4.6" fill="#e8e8e8" stroke="#000" stroke-width="1"/>
<circle cx="281.6" cy="508.7" r="6.3" fill="#ffff00" stroke="#606000" stroke-width="0.8"/><circle cx="279.4" cy="506.6" r="0.9" fill="#000"/><circle cx="283.8" cy="506.6" r="0.9" fill="#000"/><path d="M278.3,510 Q281.6,513.5 284.9,510" stroke="#000" stroke-width="0.9" fill="none"/>
<polygon points="281.5,521 273.9,535.6 289,535.6" fill="#fff" stroke="#e00000" stroke-width="2"/><rect x="280.6" y="525" width="1.8" height="6" fill="#000"/><rect x="280.6" y="532.3" width="1.8" height="1.8" fill="#000"/>
<rect x="274.7" y="547.4" width="10.6" height="4.8" fill="#800000" stroke="#200000" stroke-width="1"/>
<polygon points="431.3,501.5 424.6,514.8 438.3,514.8" fill="#000" stroke="#e00000" stroke-width="1.8"/><polygon points="431.3,503.5 426.8,512.2 432.8,506" fill="#fff"/>
<polygon points="431.3,521.5 424.6,534.8 438.3,534.8" fill="#000" stroke="#e00000" stroke-width="1.8"/><polygon points="431.3,523.5 435.8,532.2 429.8,526" fill="#fff"/>
<rect x="424.7" y="547.4" width="10.6" height="4.8" fill="#808080" stroke="#000" stroke-width="1"/>
<circle cx="581.6" cy="508.1" r="7.8" fill="#e01010"/><text x="581.6" y="511" font-size="8" font-weight="bold" fill="#fff" text-anchor="middle" textLength="12.5" lengthAdjust="spacingAndGlyphs">STOP</text>
<path d="M576,523 Q580,520.5 583,522.5 Q586,524 588.2,521.5 L587.2,530 Q585,532.5 582,530.5 Q579,528.8 577.2,531 Z" fill="#fff" stroke="#000" stroke-width="0.8"/><path d="M576.3,523h3v3h-3zM582,522.5h3v3h-3zM579.3,526h3v3h-3zM585,525h2.6v3h-2.6zM582.3,528.5h3v2.5h-3z" fill="#000"/><line x1="576" y1="522.5" x2="578" y2="535.5" stroke="#000" stroke-width="1.3"/>
<rect x="574.7" y="547.4" width="10.6" height="4.8" fill="#ffff40" stroke="#000" stroke-width="1"/>
</svg></body></html>
